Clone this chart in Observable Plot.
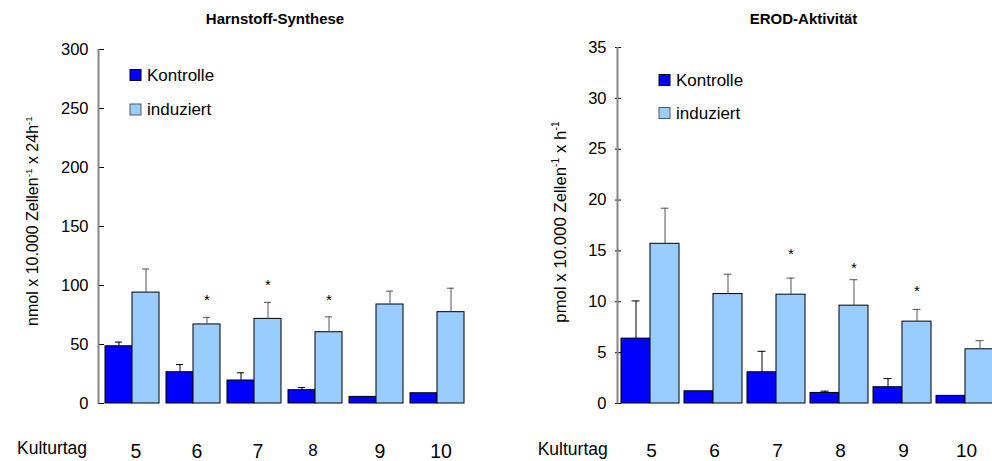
<!DOCTYPE html>
<html><head><meta charset="utf-8">
<script src="https://cdn.jsdelivr.net/npm/d3@7"></script>
<script src="https://cdn.jsdelivr.net/npm/@observablehq/plot@0.6"></script>
<style>
html,body{margin:0;padding:0;background:#fff;overflow:hidden;width:992px;height:461px;}
#wrap{position:relative;width:992px;height:461px;overflow:hidden;}
.panel{position:absolute;top:0;height:461px;}
.panel svg{overflow:visible;max-width:none !important;position:absolute;left:0;top:0;}
[aria-label="y-axis tick"]{stroke:#808080;}
</style></head><body><div id="wrap"></div>
<script>
// ---- data ----
const days = ["5","6","7","8","9","10"];
const seriesNames = ["Kontrolle","induziert"];

const harnKontrolle    = [48.5, 26.5, 19.5, 11.3, 5.6, 8.7];
const harnKontrolleErr = [3.5, 6.5, 6.5, 2.3, 0, 0];
const harnInduziert    = [94, 67, 71.7, 60.4, 83.9, 77.4];
const harnInduziertErr = [20, 6, 14, 13, 11.3, 20.3];
const harnStarDays = ["6","7","8"];
const harnStarY    = [90.4, 102.5, 90.4];
const harnTicks = [0, 50, 100, 150, 200, 250, 300];

const erodKontrolle    = [6.38, 1.2, 3.07, 1.04, 1.6, 0.75];
const erodKontrolleErr = [3.7, 0, 2.06, 0.17, 0.85, 0];
const erodInduziert    = [15.7, 10.76, 10.7, 9.62, 8.05, 5.33];
const erodInduziertErr = [3.5, 1.95, 1.63, 2.55, 1.2, 0.85];
const erodStarDays = ["7","8","9"];
const erodStarY    = [14.95, 13.57, 11.29];
const erodTicks = [0, 5, 10, 15, 20, 25, 30, 35];

const colors = ["#0000FF", "#99CCFF"];
const FONT = "Arial, 'Liberation Sans', sans-serif";

function buildRows(k, kErr, ind, indErr) {
  return days.flatMap((d, i) => [
    {day: d, series: "Kontrolle", value: k[i], err: kErr[i]},
    {day: d, series: "induziert", value: ind[i], err: indErr[i]}
  ]);
}

function makePanel(cfg) {
  const rows = cfg.rows;
  const errK = rows.filter(r => r.series === "Kontrolle" && r.err > 0);
  const errI = rows.filter(r => r.series === "induziert" && r.err > 0);
  const stars = cfg.starDays.map((d, i) => ({day: d, y: cfg.starY[i]}));
  const top = d => d.value + d.err;
  const svg = Plot.plot({
    width: cfg.width, height: 461,
    marginLeft: cfg.marginLeft, marginRight: cfg.marginRight,
    marginTop: cfg.marginTop, marginBottom: 58,
    style: {fontFamily: FONT, background: "transparent", color: "#000", maxWidth: "none"},
    fx: {domain: days, paddingInner: cfg.padInner, paddingOuter: cfg.padOuter, axis: null, label: null},
    x: {domain: seriesNames, padding: 0, axis: null},
    y: {domain: [0, cfg.yMax]},
    color: {domain: seriesNames, range: colors},
    marks: [
      Plot.axisY({ticks: cfg.ticks, tickSize: 6, tickPadding: cfg.tickPadding, fontSize: 16.5, label: null}),
      Plot.barY(rows, {fx: "day", x: "series", y: "value", fill: "series", stroke: "#000", strokeWidth: 1, inset: 0}),
      Plot.ruleX(errK, {fx: "day", x: "series", y1: "value", y2: top, stroke: "#000", strokeWidth: 1}),
      Plot.tickY(errK, {fx: "day", x: "series", y: top, stroke: "#000", strokeWidth: 1, insetLeft: cfg.capInset, insetRight: cfg.capInset}),
      Plot.ruleX(errI, {fx: "day", x: "series", y1: "value", y2: top, stroke: "#555", strokeWidth: 1}),
      Plot.tickY(errI, {fx: "day", x: "series", y: top, stroke: "#555", strokeWidth: 1, insetLeft: cfg.capInset, insetRight: cfg.capInset}),
      Plot.text(stars, {fx: "day", x: () => "induziert", y: "y", text: () => "*", fontSize: 15, dy: 3}),
      Plot.text(days.filter(d => !cfg.smallDays.includes(d)), {fx: d => d, text: d => d, frameAnchor: "bottom", lineAnchor: "bottom", dy: cfg.labelDy, dx: cfg.labelDx, fontSize: cfg.labelSize}),
      Plot.text(days.filter(d => cfg.smallDays.includes(d)), {fx: d => d, text: d => d, frameAnchor: "bottom", lineAnchor: "bottom", dy: cfg.labelDy - 2, dx: -2, fontSize: 17})
    ]
  });
  svg.style.maxWidth = "none";
  const s = d3.select(svg);
  const yr = svg.scale("y").range;
  const yTop = Math.min(yr[0], yr[1]), yBot = Math.max(yr[0], yr[1]);
  // y-axis line, placed from the plot's y scale range
  s.append("rect").attr("x", cfg.marginLeft - 1.5).attr("width", 2)
    .attr("y", yTop).attr("height", yBot - yTop + 0.5)
    .attr("fill", "#858585").attr("stroke", "none");
  // title
  s.append("text").attr("x", cfg.titleX).attr("y", 24).attr("text-anchor", "middle")
    .attr("font-weight", "bold").attr("font-size", 15).attr("font-family", FONT).text(cfg.title);
  // y label with superscripts
  const yl = s.append("text").attr("x", cfg.ylX).attr("y", cfg.ylY)
    .attr("transform", `rotate(-90,${cfg.ylX},${cfg.ylY})`).attr("text-anchor", "middle")
    .attr("font-size", cfg.ylSize).attr("font-family", FONT);
  cfg.ylParts.forEach(([t, sup]) => {
    if (sup) yl.append("tspan").attr("font-size", cfg.ylSize * 0.62).attr("dy", -cfg.ylSize * 0.42).text(t);
    else yl.append("tspan").attr("dy", yl.selectAll("tspan").size() ? cfg.ylSize * 0.42 : 0).text(t);
  });
  // Kulturtag
  s.append("text").attr("x", cfg.kultX).attr("y", cfg.kultY).attr("font-size", 17.5)
    .attr("text-anchor", "start").attr("font-family", FONT).text("Kulturtag");
  // legend
  seriesNames.forEach((name, i) => {
    const ly = cfg.legY + i * cfg.legGap;
    s.append("rect").attr("x", cfg.legX).attr("y", ly).attr("width", 11).attr("height", 11)
      .attr("fill", colors[i]).attr("stroke", i === 0 ? "#000" : "#555").attr("stroke-width", 1);
    s.append("text").attr("x", cfg.legX + 17).attr("y", ly + 11).attr("font-size", 17)
      .attr("text-anchor", "start").attr("font-family", FONT).text(name);
  });
  const div = document.createElement("div");
  div.className = "panel";
  div.style.left = cfg.left + "px";
  div.style.width = cfg.width + "px";
  div.appendChild(svg);
  document.getElementById("wrap").appendChild(div);
}

makePanel({
  left: 0, width: 496, marginLeft: 99, marginRight: 27, marginTop: 49,
  rows: buildRows(harnKontrolle, harnKontrolleErr, harnInduziert, harnInduziertErr),
  starDays: harnStarDays, starY: harnStarY,
  yMax: 300, ticks: harnTicks, tickPadding: 10,
  padInner: 0.1, padOuter: 0.05, capInset: 10,
  smallDays: ["8"], labelDy: 54.5, labelDx: 4, labelSize: 19.5,
  title: "Harnstoff-Synthese", titleX: 275,
  ylX: 31.5, ylY: 221, ylSize: 16,
  ylParts: [["nmol x 10.000 Zellen", false], ["-1", true], [" x 24h", false], ["-1", true]],
  kultX: 17, kultY: 454,
  legX: 130, legY: 69.5, legGap: 34.5
});

makePanel({
  left: 496, width: 510, marginLeft: 122, marginRight: 8.5, marginTop: 47,
  rows: buildRows(erodKontrolle, erodKontrolleErr, erodInduziert, erodInduziertErr),
  starDays: erodStarDays, starY: erodStarY,
  yMax: 35, ticks: erodTicks, tickPadding: 9,
  padInner: 0.085, padOuter: 0.04, capInset: 10.5,
  smallDays: [], labelDy: 53, labelDx: 1, labelSize: 19,
  title: "EROD-Aktivität", titleX: 307.5,
  ylX: 63, ylY: 222, ylSize: 16.8,
  ylParts: [["pmol x 10.000 Zellen", false], ["-1", true], [" x h", false], ["-1", true]],
  kultX: 41.7, kultY: 455,
  legX: 163, legY: 74.5, legGap: 33
});
</script>
</body></html>
